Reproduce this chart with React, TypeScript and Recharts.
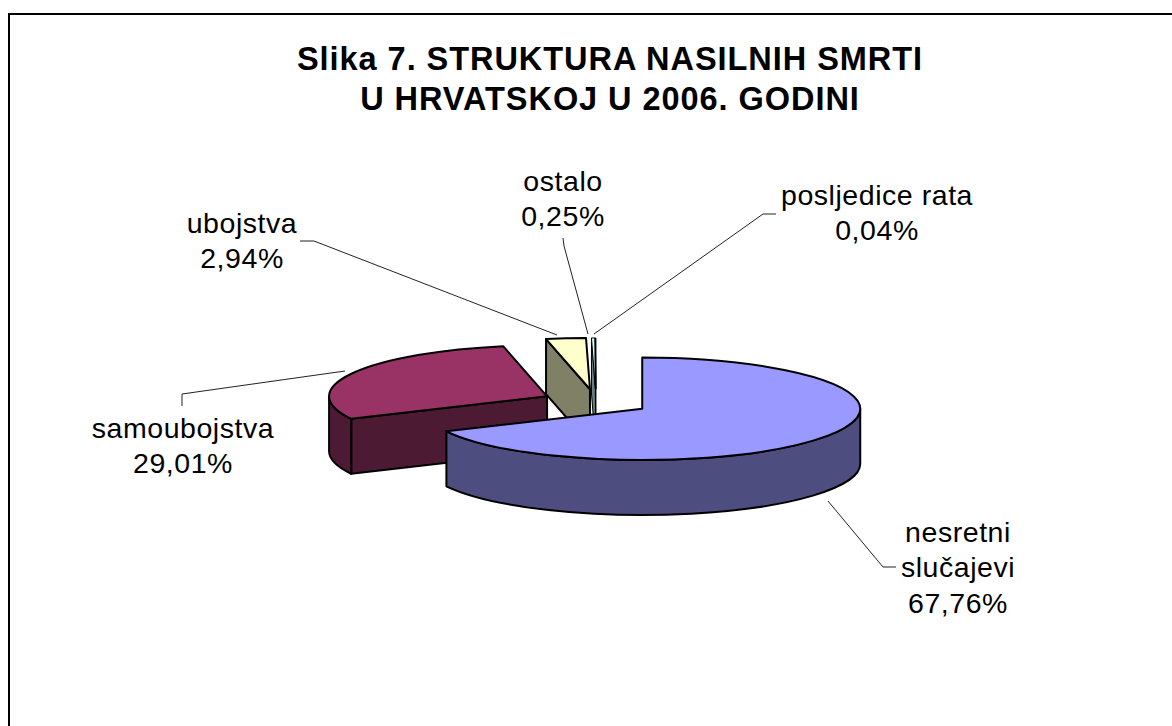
import React from "react";
import { PieChart, Pie } from "recharts";

// drawn back to front, clockwise
const categories = ["samoubojstva", "ubojstva", "ostalo", "posljedice rata", "nesretni slučajevi"];
const shares = [29.01, 2.94, 0.25, 0.04, 67.76];
const topColors = ["#993366", "#FFFFCC", "#CCFFFF", "#660066", "#9999FF"];
const sideColors = ["#4D1A33", "#808066", "#668080", "#330033", "#4D4D80"];

const titleLines = ["Slika 7. STRUKTURA NASILNIH SMRTI", "U HRVATSKOJ U 2006. GODINI"];

// label block centre x, first baseline y, leader polyline
const labelSpots = [
    { x: 183, y: 438, wrap: false, leader: "182,406 182,394 345,371" },
    { x: 242, y: 233, wrap: false, leader: "300,241 314,241 557,335" },
    { x: 563, y: 191, wrap: false, leader: "563,238 564,246 588,334" },
    { x: 877, y: 205, wrap: false, leader: "776,214 763,214 594,334" },
    { x: 958, y: 542, wrap: true, leader: "828,501 883,567 896,567" },
];

const chartData = categories.map((name, i) => ({
    name,
    value: shares[i],
    fill: topColors[i],
    side: sideColors[i],
}));

const FONT = '"Liberation Sans", Arial, sans-serif';
const SQUASH = 0.235;
const DEPTH = 55;
const EXPLODE = 0.25;
const firstAngle = 90 - (360 * shares[4]) / 100;

const rad = (d: number) => (d * Math.PI) / 180;

const renderSlice = (props: any) => {
    const { cx, cy, outerRadius: r, startAngle, endAngle, midAngle, payload } = props;
    const rx = r;
    const ry = r * SQUASH;
    const ox = cx + EXPLODE * rx * Math.cos(rad(midAngle));
    const oy = cy - EXPLODE * ry * Math.sin(rad(midAngle));
    const pt = (a: number, drop = 0) => ({
        x: ox + rx * Math.cos(rad(a)),
        y: oy - ry * Math.sin(rad(a)) + drop,
    });
    const hi = Math.max(startAngle, endAngle);
    const lo = Math.min(startAngle, endAngle);
    const s = pt(hi);
    const e = pt(lo);
    const large = hi - lo > 180 ? 1 : 0;
    const top = `M${ox},${oy} L${s.x},${s.y} A${rx},${ry} 0 ${large} 1 ${e.x},${e.y} Z`;
    // the very thin slices would be nothing but outline otherwise
    const sw = payload.value < 1 ? 1 : 2;

    // the lower half of the ellipse is the part of the rim we can see
    const rims: string[] = [];
    for (let n = -3; n <= 2; n++) {
        const a1 = Math.min(hi, 360 * n);
        const a2 = Math.max(lo, 360 * n - 180);
        if (a1 > a2) {
            const p1 = pt(a1);
            const p2 = pt(a2);
            const p3 = pt(a2, DEPTH);
            const p4 = pt(a1, DEPTH);
            rims.push(
                `M${p1.x},${p1.y} A${rx},${ry} 0 0 1 ${p2.x},${p2.y} L${p3.x},${p3.y} A${rx},${ry} 0 0 0 ${p4.x},${p4.y} Z`
            );
        }
    }

    const faces: string[] = [];
    const face = (p: { x: number; y: number }) =>
        `M${ox},${oy} L${p.x},${p.y} L${p.x},${p.y + DEPTH} L${ox},${oy + DEPTH} Z`;
    if (Math.cos(rad(hi)) < -1e-6) faces.push(face(s));
    if (Math.cos(rad(lo)) > 1e-6) faces.push(face(e));

    return (
        <g>
            {faces.map((d, i) => (
                <path key={`f${i}`} d={d} fill={payload.side} stroke="#000" strokeWidth={sw} strokeLinejoin="round" />
            ))}
            {rims.map((d, i) => (
                <path key={`r${i}`} d={d} fill={payload.side} stroke="#000" strokeWidth={sw} strokeLinejoin="round" />
            ))}
            <path d={top} fill={payload.fill} stroke="#000" strokeWidth={sw} strokeLinejoin="round" />
        </g>
    );
};

const renderLabel = (props: any) => {
    const spot = labelSpots[props.index];
    const pct = shares[props.index].toFixed(2).replace(".", ",") + "%";
    const lines = spot.wrap ? [...categories[props.index].split(" "), pct] : [categories[props.index], pct];
    return (
        <g key={props.index}>
            <polyline points={spot.leader} fill="none" stroke="#222" strokeWidth={1} />
            <text x={spot.x} y={spot.y} textAnchor="middle" fontFamily={FONT} fontSize={28.5} letterSpacing={0.55} fill="#000">
                {lines.map((t, i) => (
                    <tspan key={i} x={spot.x} dy={i === 0 ? 0 : 35.3}>
                        {t}
                    </tspan>
                ))}
            </text>
        </g>
    );
};

const App = () => {
    return (
        <div style={{ position: "absolute", left: 0, top: 0, width: 1172, height: 726, background: "#fff" }}>
            <div
                style={{
                    position: "absolute",
                    left: 8,
                    top: 13,
                    width: 1164,
                    height: 713,
                    boxSizing: "border-box",
                    borderTop: "2px solid #000",
                    borderLeft: "2px solid #000",
                }}
            />
            <PieChart width={1172} height={726} style={{ position: "absolute", left: 0, top: 0 }}>
                {titleLines.map((t, i) => (
                    <text
                        key={t}
                        x={610}
                        y={70 + i * 40}
                        textAnchor="middle"
                        fontFamily={FONT}
                        fontWeight="bold"
                        fontSize={32.5}
                        letterSpacing={0.95}
                        fill="#000"
                    >
                        {t}
                    </text>
                ))}
                <Pie
                    data={chartData}
                    dataKey="value"
                    nameKey="name"
                    cx={591}
                    cy={397}
                    innerRadius={0}
                    outerRadius={218}
                    startAngle={firstAngle}
                    endAngle={firstAngle - 360}
                    paddingAngle={0}
                    shape={renderSlice}
                    label={renderLabel}
                    labelLine={false}
                    isAnimationActive={false}
                />
            </PieChart>
        </div>
    );
};

export default App;
